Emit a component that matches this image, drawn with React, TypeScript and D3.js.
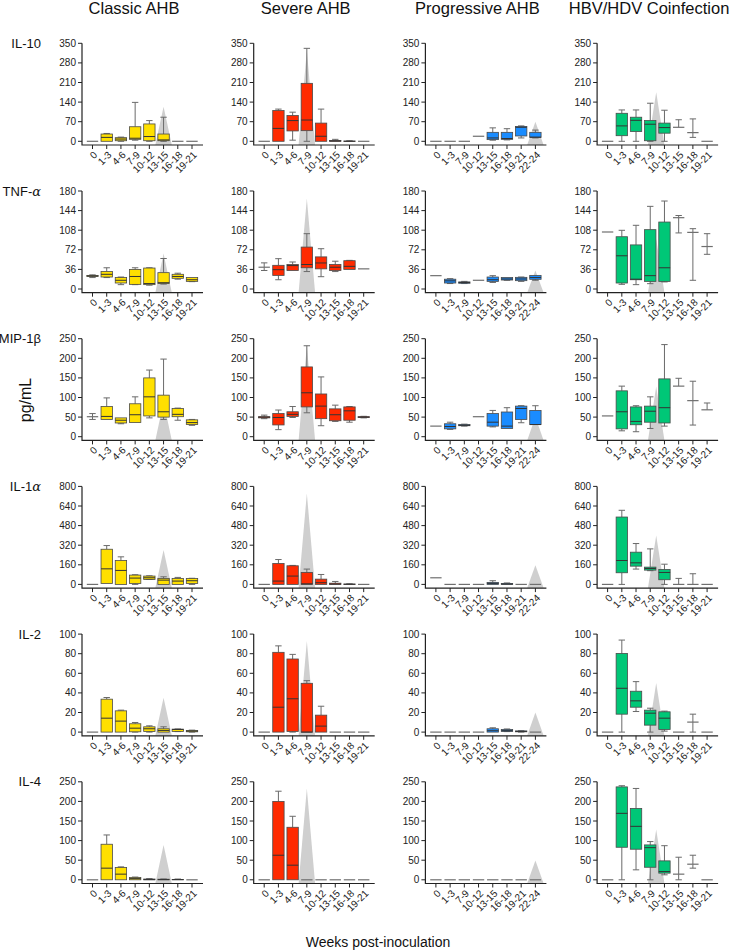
import React from 'react';
import * as d3 from 'd3';

// groups, cytokines and week bins
const groups = ['Classic AHB', 'Severe AHB', 'Progressive AHB', 'HBV/HDV Coinfection'];
const groupColors = ['#ffe000', '#ff2a00', '#1a8cff', '#00c777'];
const weeksStd = ['0', '1-3', '4-6', '7-9', '10-12', '13-15', '16-18', '19-21'];
const weeksProg = ['0', '1-3', '7-9', '10-12', '13-15', '16-18', '19-21', '22-24'];
const cytokines = ['IL-10', 'TNF-α', 'MIP-1β', 'IL-1α', 'IL-2', 'IL-4'];
const yMax = [350, 180, 250, 800, 100, 250];

// box stats per week bin: [low whisker, q1, median, q3, high whisker]
const classic: Record<string, number[][]> = {
  'IL-10': [[0, 0, 0, 0, 0], [0, 0, 14, 26, 28], [0, 2, 8, 13, 15], [4, 7, 11, 52, 139], [0, 2, 17, 62, 74], [0, 2, 5, 26, 86], [0, 0, 0, 0, 0], [0, 0, 0, 0, 0]],
  'TNF-α': [[21, 23, 24, 25, 26], [21, 22, 27, 32, 39], [8, 11, 16, 21, 22], [8, 8.5, 23, 36, 39], [7, 8, 10, 38.5, 39], [9, 10, 11.6, 30, 56], [18, 19.6, 23, 27, 29], [13.5, 14, 17, 21, 21]],
  'MIP-1β': [[44, 51, 51, 51, 59], [44, 44, 51.7, 77, 99], [33, 35, 42, 48, 48], [36, 36, 56, 84, 101.7], [48, 53, 101.7, 150, 170], [44, 50, 63.6, 106, 198], [42, 51, 57, 72, 73], [29, 31, 36, 43, 44]],
  'IL-1α': [[0, 0, 0, 0, 0], [8, 8, 127, 287, 317], [0, 0, 114, 195, 225], [0, 8, 51.5, 76, 78.6], [40, 40.7, 54, 68, 70], [0, 0, 35, 49, 62], [0, 0, 27, 49, 57], [0, 8, 30, 49, 50]],
  'IL-2': [[0, 0, 0, 0, 0], [0, 0, 14.2, 33.6, 35.3], [0, 0, 11.2, 21.7, 22.4], [0, 0.3, 4, 8.5, 9.8], [0, 0.7, 3.4, 5.4, 6.4], [0, 0, 1.7, 3.4, 5.4], [0.5, 0.7, 2.7, 3, 3.2], [0, 0.3, 1, 1.7, 2]],
  'IL-4': [[0, 0, 0, 0, 0], [0, 0, 29.7, 90.7, 114.4], [0, 0, 14.4, 31.4, 33], [0, 0, 3, 6, 7], [0, 0, 0.5, 2, 3], [0, 0, 0.5, 1.5, 2], [0, 0, 0.5, 1, 2], [0, 0, 0, 0, 0]],
};

const severe: Record<string, number[][]> = {
  'IL-10': [[0, 0, 0, 0, 0], [0, 0, 46, 110, 115], [4, 37, 74, 92, 104], [0, 38, 76, 207, 332], [0, 0, 18, 65, 115], [0, 0, 1, 3, 7], [0, 0, 0, 1, 2], [0, 0, 0, 0, 0]],
  'TNF-α': [[34, 40, 40, 40, 48], [17, 25, 35.5, 43.5, 55.7], [34, 34, 43, 45, 49.6], [32, 39, 45, 77, 101.6], [22.6, 37, 47.8, 59, 74], [32, 34, 40, 45, 51], [36, 36, 41.6, 52, 52.6], [37, 37, 37, 37, 37]],
  'MIP-1β': [[46, 48, 50, 51, 55], [18, 30, 49, 59, 68], [49, 51.7, 57, 63.6, 77], [61, 76, 112, 178, 232], [28, 46, 78, 109, 152.5], [39, 40.7, 56, 71, 80.5], [37, 42, 66, 76, 77], [48, 49, 50, 51, 52]],
  'IL-1α': [[0, 0, 0, 0, 0], [0, 0, 27, 171, 203], [0, 0, 68, 152, 155], [0, 0, 5, 98, 125], [0, 0, 13.6, 43, 81], [0, 0, 3, 10, 24], [0, 0, 1, 3, 5], [0, 0, 0, 0, 0]],
  'IL-2': [[0, 0, 0, 0, 0], [0, 0, 25.4, 81.4, 88], [0, 0.7, 34, 74.6, 79.3], [0, 0, 0, 49.8, 52.5], [0, 0, 6.1, 17.3, 26.4], [0, 0, 0, 0, 0], [0, 0, 0, 0, 0], [0, 0, 0, 0, 0]],
  'IL-4': [[0, 0, 0, 0, 0], [0, 0, 62.7, 200, 226], [0, 0, 37.3, 134, 162], [0, 0, 0, 0, 0], [0, 0, 0, 0, 0], [0, 0, 0, 0, 0], [0, 0, 0, 0, 0], [0, 0, 0, 0, 0]],
};

const progressive: Record<string, number[][]> = {
  'IL-10': [[0, 0, 0, 0, 0], [0, 0, 0, 0, 0], [0, 0, 0, 0, 0], [18, 18, 18, 18, 18], [4, 6, 12, 32, 48], [5, 7, 10, 32, 45], [12, 19, 50, 53, 55], [12, 14, 15, 32, 40]],
  'TNF-α': [[24.5, 24.5, 24.5, 24.5, 24.5], [10, 11, 15, 18, 19], [10, 10.5, 12, 13, 14], [16, 16, 16, 16, 16], [12, 14, 17, 22, 24.5], [16, 16.5, 18.4, 21, 21], [14, 15.3, 18.4, 21.4, 22], [16, 17.8, 21, 25, 25]],
  'MIP-1β': [[27, 27, 27, 27, 27], [18.6, 20, 26, 33, 37], [27, 28, 29, 31, 32], [51, 51, 51, 51, 51], [25, 27, 37, 59, 67], [21, 21, 27, 63, 74], [35.6, 44, 72, 78, 79], [31, 31, 31, 67, 79]],
  'IL-1α': [[54, 54, 54, 54, 54], [0, 0, 0, 0, 0], [0, 0, 0, 0, 0], [0, 0, 0, 0, 0], [0, 0, 8, 16, 30], [0, 0, 3, 8, 12], [0, 0, 0, 0, 0], [0, 0, 0, 0, 0]],
  'IL-2': [[0, 0, 0, 0, 0], [0, 0, 0, 0, 0], [0, 0, 0, 0, 0], [0, 0, 0, 0, 0], [0, 0, 1.4, 3.4, 4.4], [0.5, 0.7, 1.5, 2.7, 3.2], [0, 0.3, 0.7, 1.2, 1.4], [0, 0, 0, 0, 0]],
  'IL-4': [[0, 0, 0, 0, 0], [0, 0, 0, 0, 0], [0, 0, 0, 0, 0], [0, 0, 0, 0, 0], [0, 0, 0, 0, 0], [0, 0, 0, 0, 0], [0, 0, 0, 0, 0], [0, 0, 0, 0, 0]],
};

const hbv: Record<string, number[][]> = {
  'IL-10': [[0, 0, 0, 0, 0], [0, 20, 55, 100, 112], [0, 35, 75, 86, 112], [0, 2, 61, 74, 136], [0, 29, 49, 65, 111], [50, 50, 50, 50, 77], [14, 31, 31, 31, 80], [0, 0, 0, 0, 0]],
  'TNF-α': [[104.7, 104.7, 104.7, 104.7, 104.7], [8.6, 11, 61, 96, 107.8], [8, 17, 18, 81, 117], [9.8, 14, 24.5, 109, 151.8], [13, 14, 39, 123, 161.6], [103, 131, 131, 131, 135], [16, 104, 104, 104, 110.8], [63.7, 78, 78, 78, 101.6]],
  'MIP-1β': [[53, 53, 53, 53, 53], [15, 20, 63.6, 117, 129], [12.7, 30.5, 39, 76, 79], [21, 37, 65, 78, 101.7], [27, 35, 74, 147.5, 235], [129, 129, 129, 129, 149], [29.7, 92, 92, 92, 141.5], [68.6, 68.6, 68.6, 68.6, 86]],
  'IL-1α': [[0, 0, 0, 0, 0], [0, 95, 195, 550, 605], [125, 149, 176, 263, 333.6], [112, 116.6, 130, 141, 290], [0, 38, 97.6, 122, 165], [0, 0, 0, 0, 49], [0, 0, 0, 0, 87], [0, 0, 0, 0, 0]],
  'IL-2': [[0, 0, 0, 0, 0], [0, 18.3, 44.7, 80.3, 93.9], [21, 25.4, 31.9, 41.7, 51.5], [0, 7.1, 19.3, 22.4, 24.4], [1, 2.7, 14.2, 20.7, 21.4], [0, 0, 0, 0, 0], [0, 10.2, 10.2, 10.2, 18.3], [0, 0, 0, 0, 0]],
  'IL-4': [[0, 0, 0, 0, 0], [0, 83, 169.5, 237, 240], [25.4, 78, 136.4, 182, 233], [0, 32, 82, 89, 97.5], [12.7, 17, 21, 48.3, 87], [0, 14.4, 14.4, 14.4, 57.6], [29.7, 39.8, 39.8, 39.8, 62.7], [0, 0, 0, 0, 0]],
};

// grey ALT-peak marker: week-bin index and height per cytokine
const peakIndex = [5, 3, 7, 3.42];
const classicPeak = [123, 65, 89, 280, 35, 89];
const severePeak = [325, 166, 232, 743, 93, 233];
const progressivePeak = [70, 34, 50, 157, 20, 49];
const hbvPeak = [175, 92, 128, 400, 50, 128];

const groupData = [classic, severe, progressive, hbv];
const groupPeaks = [classicPeak, severePeak, progressivePeak, hbvPeak];
const groupWeeks = [weeksStd, weeksStd, weeksProg, weeksStd];

const W = 732;
const H = 952;
const font = '"Liberation Sans", Arial, sans-serif';
const colX0 = 82;
const colStep = 171.7;
const rowY0 = 43.3;
const rowStep = 147.7;
const plotH = 98;
const axisGap = 3.7;
const axisLen = 121;

function label(text: string) {
  // trailing alpha is set in italic like the original
  const m = text.match(/^(.*?)(α)$/);
  if (m) {
    return (
      <>
        {m[1]}
        <tspan fontStyle="italic" fontFamily='"DejaVu Serif", serif'>{m[2]}</tspan>
      </>
    );
  }
  return text;
}

function Panel({ g, r }: { g: number; r: number }) {
  const ax = colX0 + g * colStep;
  const top = rowY0 + r * rowStep;
  const zeroY = top + plotH;
  const axisY = zeroY + axisGap;
  const weeks = groupWeeks[g];
  const stats = groupData[g][cytokines[r]];
  const max = yMax[r];

  const y = d3.scaleLinear().domain([0, max]).range([zeroY, top]);
  const x = d3.scaleLinear().domain([0, weeks.length - 1]).range([ax + 10.5, ax + 110]);
  const step = x(1) - x(0);
  const bw = step * 0.8;
  const capW = step * 0.45;
  const ticks = d3.range(0, max + 0.001, max / 5);

  const px = x(peakIndex[g]);
  const hw = step * 0.58;
  const tri = d3.line()([
    [px - hw, axisY],
    [px, y(groupPeaks[g][r])],
    [px + hw, axisY],
  ]) + 'Z';

  const color = groupColors[g];

  return (
    <g>
      <path d={tri} fill="#cfcfcf" />
      {stats.map((s, i) => {
        const [lo, q1, med, q3, hi] = s;
        const cx = x(i);
        const hasBox = q3 > q1;
        return (
          <g key={i}>
            {hi > q3 && (
              <>
                <line x1={cx} x2={cx} y1={y(q3)} y2={y(hi)} stroke="#6a6a6a" strokeWidth={1} />
                <line x1={cx - capW / 2} x2={cx + capW / 2} y1={y(hi)} y2={y(hi)} stroke="#6a6a6a" strokeWidth={1} />
              </>
            )}
            {lo < q1 && (
              <>
                <line x1={cx} x2={cx} y1={y(q1)} y2={y(lo)} stroke="#6a6a6a" strokeWidth={1} />
                <line x1={cx - capW / 2} x2={cx + capW / 2} y1={y(lo)} y2={y(lo)} stroke="#6a6a6a" strokeWidth={1} />
              </>
            )}
            {hasBox && (
              <rect x={cx - bw / 2} y={y(q3)} width={bw} height={y(q1) - y(q3)} fill={color} stroke="#4a4a4a" strokeWidth={0.8} />
            )}
            <line
              x1={cx - bw / 2}
              x2={cx + bw / 2}
              y1={y(med)}
              y2={y(med)}
              stroke={hasBox ? '#333' : '#6f6f6f'}
              strokeWidth={hasBox ? 1 : 1.2}
            />
          </g>
        );
      })}
      {/* axes */}
      <path d={`M${ax},${y(max)}V${axisY}H${ax + axisLen}`} fill="none" stroke="#222" strokeWidth={1.2} />
      {ticks.map((t) => (
        <g key={t}>
          <line x1={ax - 4} x2={ax} y1={y(t)} y2={y(t)} stroke="#222" strokeWidth={1} />
          <text x={ax - 6} y={y(t)} dy="0.35em" textAnchor="end" fontSize={10} fill="#222" fontFamily={font}>
            {t}
          </text>
        </g>
      ))}
      {weeks.map((w, i) => (
        <g key={w}>
          <line x1={x(i)} x2={x(i)} y1={axisY} y2={axisY + 4} stroke="#222" strokeWidth={1} />
          <text
            transform={`translate(${x(i) + 3},${axisY + 8}) rotate(-45)`}
            dy="0.35em"
            textAnchor="end"
            fontSize={10}
            fill="#222"
            fontFamily={font}
          >
            {w}
          </text>
        </g>
      ))}
    </g>
  );
}

export default function App() {
  return (
    <svg width={W} height={H} style={{ position: 'absolute', left: 0, top: 0, background: '#fff' }}>
      {groups.map((name, g) => (
        <text key={name} x={colX0 + g * colStep + 52} y={14} textAnchor="middle" fontSize={16.5} fill="#111" fontFamily={font}>
          {name}
        </text>
      ))}
      {cytokines.map((c, r) => (
        <text key={c} x={41} y={rowY0 + r * rowStep} dy="0.35em" textAnchor="end" fontSize={13} fill="#111" fontFamily={font}>
          {label(c)}
        </text>
      ))}
      <text transform="translate(31,400) rotate(-90)" textAnchor="middle" fontSize={16} fill="#111" fontFamily={font}>
        pg/mL
      </text>
      <text x={378} y={947} textAnchor="middle" fontSize={14} fill="#111" fontFamily={font}>
        Weeks post-inoculation
      </text>
      {groups.map((_, g) => cytokines.map((_, r) => <Panel key={`${g}-${r}`} g={g} r={r} />))}
    </svg>
  );
}
